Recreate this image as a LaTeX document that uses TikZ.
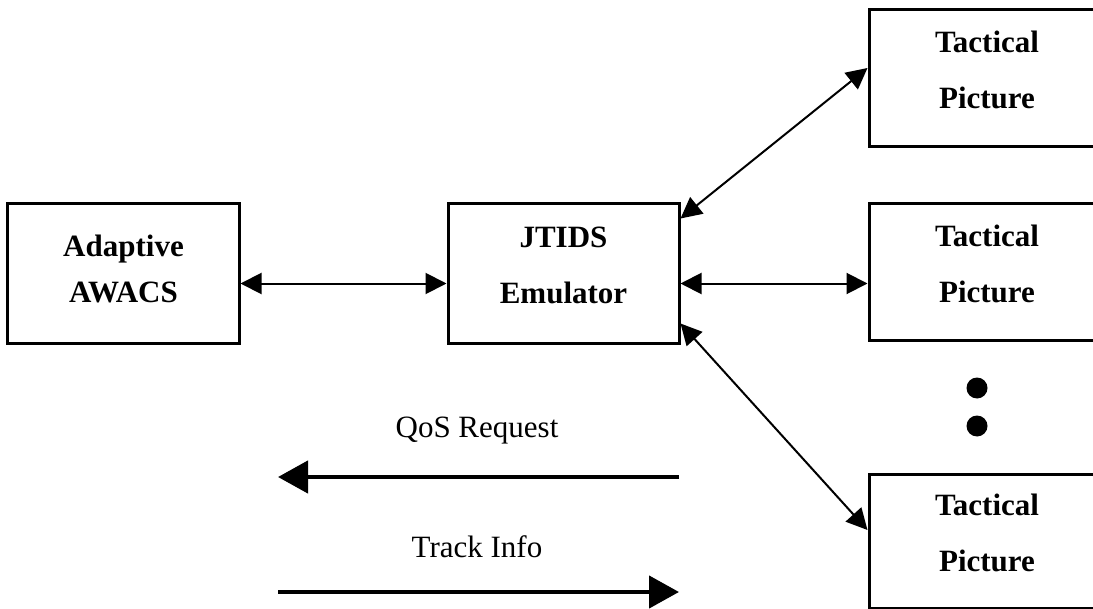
\documentclass[tikz,border=0pt]{standalone}
\usepackage{fontspec}
\setmainfont{Liberation Serif}
\usetikzlibrary{arrows.meta}
\begin{document}
\begin{tikzpicture}[x=1bp,y=-1bp,
  boxnode/.style={draw,line width=3bp,minimum width=231bp,minimum height=139bp,
    inner sep=0pt,align=center,text depth=16bp,
    font=\fontsize{31bp}{56bp}\selectfont\bfseries},
  tpnode/.style={boxnode,minimum width=236bp,minimum height=137bp},
  thinarrow/.style={line width=2bp,{Triangle[length=21bp,width=21bp]}-{Triangle[length=21bp,width=21bp]}},
  thickarrow/.style={line width=4.5bp,-{Triangle[length=30bp,width=32bp]}},
  lbl/.style={anchor=base,inner sep=0pt,font=\fontsize{31bp}{37bp}\selectfont},
  dotnode/.style={circle,fill,inner sep=0pt,minimum size=21bp}]
\useasboundingbox (0,0) rectangle (1093,609);
\clip (0,0) rectangle (1093,609);
\node[boxnode,font=\fontsize{31bp}{46bp}\selectfont\bfseries,text depth=10bp] (aw) at (123.5,273.5) {Adaptive\\AWACS};
\node[boxnode] (jt) at (563.5,273.5) {JTIDS\\Emulator};
\node[tpnode] (tp1) at (987,78) {Tactical\\Picture};
\node[tpnode] (tp2) at (987,272) {Tactical\\Picture};
\node[tpnode,minimum height=134bp] (tp3) at (987,541) {Tactical\\Picture};
\node[dotnode] (d1) at (977,388) {};
\node[dotnode] (d2) at (977,426) {};
\draw[thinarrow] ([yshift=-10bp]aw.east) -- ([yshift=-10bp]aw.east -| jt.west);
\draw[thinarrow] ([yshift=-10bp]jt.east) -- ([yshift=-10bp]jt.east -| tp2.west);
\draw[thinarrow] ([yshift=-16bp]jt.north east) -- ([yshift=10bp]tp1.west);
\draw[thinarrow] ([yshift=21bp]jt.south east) -- ([yshift=11bp]tp3.west);
\node[lbl] (qos) at (477,437) {QoS Request};
\node[lbl] (trk) at (477,557) {Track Info};
\coordinate (q1) at (679,477);
\coordinate (q2) at (278,477);
\coordinate (t1) at (278,592);
\coordinate (t2) at (679,592);
\draw[thickarrow] (q1) -- (q2);
\draw[thickarrow] (t1) -- (t2);
\end{tikzpicture}
\end{document}
